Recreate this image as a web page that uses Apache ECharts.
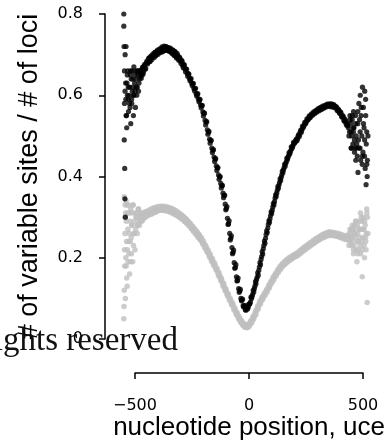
<!DOCTYPE html>
<html><head><meta charset="utf-8">
<script src="https://cdn.jsdelivr.net/npm/echarts@6/dist/echarts.min.js"></script>
<style>html,body{margin:0;padding:0;background:#fff}#c{width:388px;height:447px}</style>
</head><body><div id="c"></div>
<script>
// nucleotide positions (every 5 nt from -545 to 540)
const positionStart = -545, positionStep = 5, positionCount = 218;
const positions = Array.from({length: positionCount}, (_, i) => positionStart + positionStep * i);

// black series: fraction of variable sites
const blackValues = [
  0.58,0.63,0.52,0.66,0.60,0.57,0.64,0.61,0.55,0.63,      // -545..-500
  0.66,0.60,0.65,0.63,0.655,0.642,0.668,0.657,0.676,0.666, // -495..-450
  0.684,0.680,0.692,0.684,0.697,0.694,0.699,0.705,0.697,0.708,
  0.701,0.712,0.705,0.715,0.707,0.718,0.710,0.720,0.711,0.717,
  0.709,0.716,0.705,0.712,0.700,0.708,0.695,0.703,0.690,0.694,
  0.684,0.686,0.673,0.676,0.665,0.665,0.654,0.653,0.642,0.640,
  0.630,0.628,0.617,0.616,0.604,0.602,0.591,0.588,0.576,0.574,
  0.559,0.556,0.538,0.534,0.515,0.509,0.492,0.488,0.470,0.465,
  0.448,0.443,0.426,0.421,0.404,0.399,0.383,0.377,0.359,0.353,
  0.332,0.321,0.297,0.284,0.260,0.248,0.225,0.213,0.188,0.176,
  0.153,0.144,0.124,0.118,0.100,0.096,0.082,0.081,0.072,0.076, // -45..0
  0.074,0.085,0.087,0.103,0.105,0.120,0.124,0.141,0.146,0.163,
  0.169,0.188,0.196,0.215,0.222,0.241,0.248,0.266,0.273,0.291,
  0.296,0.313,0.317,0.334,0.338,0.355,0.359,0.375,0.379,0.394,
  0.398,0.413,0.416,0.430,0.432,0.445,0.446,0.459,0.460,0.473,
  0.472,0.484,0.483,0.489,0.488,0.499,0.498,0.510,0.509,0.524,
  0.523,0.533,0.531,0.542,0.540,0.549,0.545,0.554,0.551,0.559,
  0.555,0.563,0.559,0.567,0.562,0.570,0.565,0.573,0.568,0.575,
  0.571,0.578,0.573,0.579,0.572,0.579,0.571,0.577,0.569,0.572,
  0.563,0.566,0.557,0.559,0.548,0.550,0.538,0.541,0.529,0.531,
  0.52,0.51,0.53,0.50,0.48,0.52,0.47,0.50,0.45,0.49,           // 455..500
  0.54,0.44,0.50,0.46,0.52,0.42,0.48,0.44                      // 505..540
];
// second reading of the black band, offset by half a step (band thickness)
const blackValuesMid = [
  0.61,0.55,0.65,0.59,0.62,0.66,0.58,0.64,0.60,0.65,      // -542.5..-497.5
  0.62,0.66,0.61,0.66,0.648,0.663,0.652,0.672,0.664,0.680,
  0.677,0.690,0.683,0.696,0.688,0.702,0.693,0.706,0.700,0.711,
  0.705,0.714,0.708,0.719,0.710,0.721,0.712,0.719,0.710,0.716,
  0.708,0.713,0.703,0.710,0.698,0.705,0.692,0.699,0.686,0.692,
  0.678,0.684,0.668,0.674,0.658,0.664,0.647,0.652,0.636,0.641,
  0.624,0.629,0.611,0.617,0.598,0.604,0.584,0.590,0.569,0.575,
  0.549,0.556,0.527,0.535,0.504,0.511,0.482,0.489,0.459,0.466,
  0.437,0.444,0.415,0.422,0.393,0.400,0.372,0.378,0.348,0.354,
  0.318,0.326,0.282,0.291,0.244,0.254,0.210,0.219,0.174,0.183,
  0.143,0.150,0.115,0.122,0.094,0.098,0.079,0.083,0.071,0.078, // -42.5..2.5
  0.078,0.086,0.091,0.100,0.110,0.116,0.130,0.136,0.152,0.157,
  0.177,0.183,0.203,0.209,0.230,0.236,0.257,0.262,0.282,0.287,
  0.304,0.309,0.325,0.330,0.347,0.351,0.366,0.371,0.385,0.390,
  0.404,0.409,0.421,0.425,0.436,0.441,0.451,0.455,0.464,0.469,
  0.476,0.481,0.485,0.492,0.492,0.503,0.503,0.514,0.515,0.520,
  0.526,0.530,0.536,0.539,0.543,0.546,0.550,0.552,0.555,0.557,
  0.559,0.561,0.563,0.565,0.566,0.568,0.569,0.571,0.572,0.573,
  0.575,0.576,0.576,0.577,0.575,0.576,0.574,0.574,0.571,0.570,
  0.562,0.563,0.555,0.556,0.546,0.547,0.536,0.537,0.526,0.525,
  0.50,0.54,0.47,0.55,0.51,0.46,0.53,0.48,0.56,0.47,           // 457.5..502.5
  0.51,0.57,0.45,0.53,0.49,0.55,0.43,0.50                      // 507.5..542.5
];
// extra scattered black points at the noisy ends [position, value]
const blackEdgePoints = [
  [-548,0.80],[-548,0.77],[-547,0.72],[-542,0.70],[-538,0.72],[-546,0.49],[-544,0.42],[-543,0.345],[-541,0.30],
  [-536,0.55],[-532,0.60],[-528,0.62],[-523,0.58],[-518,0.65],[-513,0.59],[-508,0.62],[-503,0.67],[-498,0.61],
  [-493,0.64],[-488,0.62],[-483,0.66],[-477,0.64],[-472,0.66],[-467,0.65],[-462,0.67],[-545,0.66],[-539,0.59],
  [-534,0.63],[-527,0.56],[-517,0.53],[-511,0.66],[-506,0.60],[-496,0.57],
  [462,0.55],[467,0.51],[472,0.54],[477,0.52],[482,0.49],[487,0.55],[492,0.47],[497,0.53],[502,0.58],[507,0.47],
  [512,0.55],[517,0.43],[522,0.57],[527,0.45],[532,0.59],[537,0.51],[539,0.40],[534,0.38],[528,0.61],[518,0.62],
  [508,0.60],[498,0.41],[488,0.44],[478,0.56],[468,0.47]
];

// grey series
const greyValues = [
  0.22,0.31,0.15,0.27,0.21,0.29,0.25,0.31,0.23,0.29,          // -545..-500
  0.27,0.31,0.28,0.30,0.29,0.305,0.292,0.303,0.298,0.309,
  0.302,0.311,0.305,0.314,0.307,0.316,0.310,0.319,0.312,0.321,
  0.316,0.323,0.317,0.324,0.317,0.324,0.316,0.323,0.315,0.322,
  0.313,0.320,0.311,0.318,0.308,0.315,0.305,0.312,0.302,0.308,
  0.298,0.304,0.294,0.300,0.289,0.295,0.284,0.289,0.278,0.283,
  0.271,0.276,0.264,0.269,0.257,0.262,0.250,0.255,0.243,0.246,
  0.233,0.235,0.223,0.226,0.213,0.214,0.201,0.202,0.190,0.192,
  0.180,0.182,0.169,0.170,0.156,0.157,0.144,0.144,0.130,0.131,
  0.118,0.119,0.106,0.107,0.094,0.095,0.083,0.084,0.071,0.072,
  0.060,0.061,0.049,0.050,0.040,0.042,0.033,0.036,0.029,0.034, // -45..0
  0.029,0.037,0.035,0.045,0.044,0.056,0.056,0.069,0.069,0.082,
  0.082,0.094,0.093,0.104,0.103,0.113,0.112,0.122,0.122,0.133,
  0.132,0.143,0.142,0.153,0.152,0.162,0.161,0.171,0.169,0.179,
  0.176,0.185,0.182,0.191,0.187,0.196,0.192,0.200,0.196,0.203,
  0.199,0.207,0.202,0.210,0.205,0.213,0.210,0.218,0.214,0.223,
  0.219,0.227,0.223,0.231,0.227,0.235,0.231,0.239,0.235,0.243,
  0.238,0.247,0.242,0.250,0.245,0.254,0.249,0.257,0.251,0.260,
  0.255,0.262,0.256,0.264,0.257,0.263,0.256,0.262,0.255,0.261,
  0.254,0.260,0.252,0.258,0.250,0.256,0.248,0.254,0.246,0.253,
  0.25,0.245,0.26,0.24,0.27,0.23,0.26,0.22,0.28,0.24,          // 455..500
  0.27,0.21,0.29,0.25,0.23,0.28,0.26,0.30                      // 505..540
];
const greyValuesMid = [
  0.30,0.18,0.33,0.24,0.31,0.19,0.28,0.33,0.26,0.31,          // -542.5..-497.5
  0.30,0.28,0.32,0.29,0.31,0.296,0.310,0.300,0.313,0.304,
  0.315,0.307,0.318,0.310,0.321,0.312,0.323,0.314,0.325,0.316,
  0.326,0.318,0.327,0.319,0.327,0.318,0.326,0.317,0.325,0.315,
  0.323,0.313,0.321,0.310,0.318,0.307,0.315,0.303,0.311,0.299,
  0.307,0.295,0.302,0.290,0.297,0.285,0.291,0.279,0.285,0.273,
  0.278,0.266,0.272,0.259,0.265,0.252,0.258,0.245,0.250,0.237,
  0.241,0.227,0.231,0.217,0.220,0.206,0.209,0.195,0.198,0.184,
  0.187,0.174,0.175,0.162,0.163,0.149,0.150,0.137,0.137,0.124,
  0.124,0.111,0.112,0.099,0.100,0.087,0.089,0.076,0.077,0.064,
  0.066,0.053,0.055,0.044,0.046,0.035,0.039,0.029,0.036,0.028, // -42.5..2.5
  0.036,0.031,0.043,0.039,0.052,0.049,0.063,0.060,0.076,0.074,
  0.089,0.086,0.100,0.097,0.109,0.107,0.118,0.116,0.128,0.126,
  0.139,0.137,0.149,0.146,0.158,0.155,0.167,0.164,0.175,0.172,
  0.182,0.179,0.188,0.184,0.193,0.189,0.197,0.193,0.201,0.197,
  0.205,0.201,0.208,0.204,0.212,0.207,0.216,0.211,0.221,0.216,
  0.225,0.220,0.229,0.224,0.233,0.228,0.237,0.232,0.241,0.236,
  0.245,0.240,0.249,0.243,0.252,0.247,0.255,0.249,0.258,0.252,
  0.260,0.254,0.261,0.255,0.261,0.255,0.260,0.254,0.259,0.253,
  0.258,0.251,0.256,0.249,0.254,0.247,0.252,0.245,0.251,0.244,
  0.23,0.27,0.25,0.28,0.22,0.26,0.29,0.24,0.21,0.27,           // 457.5..502.5
  0.25,0.30,0.22,0.27,0.29,0.24,0.31,0.26                      // 507.5..542.5
];
const greyEdgePoints = [
  [-548,0.05],[-547,0.08],[-546,0.12],[-544,0.18],[-543,0.26],[-542,0.33],[-541,0.10],[-539,0.20],[-537,0.29],
  [-536,0.24],[-533,0.13],[-531,0.31],[-529,0.19],[-527,0.33],[-524,0.26],[-522,0.16],[-519,0.24],[-517,0.32],
  [-514,0.21],[-512,0.28],[-508,0.19],[-506,0.33],[-503,0.26],[-498,0.22],[-493,0.30],[-488,0.26],[-483,0.32],
  [-478,0.28],[-473,0.31],[-468,0.29],[-546,0.35],[-538,0.34],[-532,0.22],
  [458,0.26],[463,0.24],[468,0.27],[473,0.25],[478,0.21],[483,0.28],[488,0.25],[493,0.19],[497,0.26],[503,0.29],
  [507,0.23],[512,0.27],[517,0.153],[522,0.30],[527,0.20],[532,0.25],[537,0.32],[539,0.09],[534,0.22],[524,0.27],
  [514,0.24],[509,0.31],[499,0.22],[489,0.29],[479,0.27],[469,0.23]
];

const yTicks = [0, 0.2, 0.4, 0.6, 0.8];
const xTicks = [-500, 0, 500];

const midPositions = positions.map(p => p + positionStep / 2);
const blackData = positions.map((p, i) => [p, blackValues[i]])
  .concat(midPositions.map((p, i) => [p, blackValuesMid[i]]))
  .concat(blackEdgePoints);
const greyData = positions.map((p, i) => [p, greyValues[i]])
  .concat(midPositions.map((p, i) => [p, greyValuesMid[i]]))
  .concat(greyEdgePoints);

const chart = echarts.init(document.getElementById('c'), null, {renderer: 'canvas'});
const font = 'DejaVu Sans';
chart.setOption({
  animation: false,
  backgroundColor: '#fff',
  grid: [
    {left: 105, top: 14, width: 288.2, height: 325},
    {left: 135, top: 300, width: 228, height: 73}
  ],
  xAxis: [
    {gridIndex: 0, type: 'value', min: -632, max: 632, show: false},
    {gridIndex: 1, type: 'value', min: xTicks[0], max: xTicks[xTicks.length - 1], interval: 500,
     axisLine: {show: true, onZero: false, lineStyle: {color: '#000', width: 1.5}},
     axisTick: {show: true, inside: false, length: 6, lineStyle: {color: '#000', width: 1.5}},
     axisLabel: {color: '#000', fontFamily: font, fontSize: 16, margin: 25,
       formatter: v => (v < 0 ? '\u2212' + Math.abs(v) : String(v))},
     splitLine: {show: false},
     name: 'nucleotide position, uce', nameLocation: 'middle', nameGap: 38,
     nameTextStyle: {color: '#000', fontFamily: 'Liberation Sans', fontSize: 26}}
  ],
  yAxis: [
    {gridIndex: 0, type: 'value', min: yTicks[0], max: yTicks[yTicks.length - 1], interval: 0.2,
     axisLine: {show: true, onZero: false, lineStyle: {color: '#000', width: 1.5}},
     axisTick: {show: true, inside: false, length: 6, lineStyle: {color: '#000', width: 1.5}},
     axisLabel: {color: '#000', fontFamily: font, fontSize: 16, margin: 22},
     splitLine: {show: false},
     name: '# of variable sites / # of loci', nameLocation: 'middle', nameGap: 62, nameRotate: 90,
     nameTextStyle: {color: '#000', fontFamily: 'Liberation Sans', fontSize: 27}},
    {gridIndex: 1, type: 'value', min: 0, max: 1, show: false}
  ],
  series: [
    {type: 'scatter', xAxisIndex: 0, yAxisIndex: 0, data: greyData, symbolSize: 5.5, clip: false,
     itemStyle: {color: '#bfbfbf'}},
    {type: 'scatter', xAxisIndex: 0, yAxisIndex: 0, data: blackData, symbolSize: 5.2, clip: false,
     itemStyle: {color: '#000'}}
  ],
  graphic: [
    {type: 'text', z: 100,
     style: {text: 'All rights reserved', x: 178, y: 325, textAlign: 'right', verticalAlign: 'top',
       font: '33px "Liberation Serif"', fill: '#111'}}
  ]
});
</script></body></html>
